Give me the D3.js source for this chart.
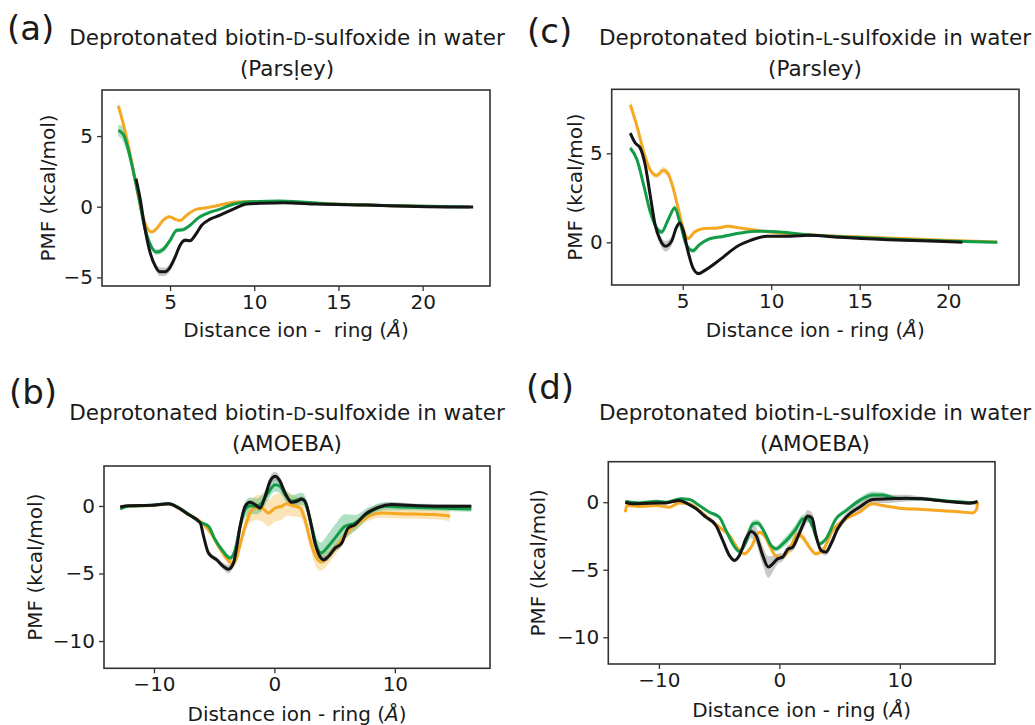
<!DOCTYPE html>
<html>
<head>
<meta charset="UTF-8">
<title>PMF biotin sulfoxide</title>
<style>
  body { margin: 0; background: #fff; }
  svg { font-family: "DejaVu Sans", sans-serif; }
  .frame { fill: none; stroke: #333; stroke-width: 1.6px; }
  .axis path { display: none; }
  .axis line { stroke: #333; stroke-width: 1.3px; }
  .axis text { font-size: 20px; fill: #1a1a1a; font-family: "DejaVu Sans", sans-serif; }
  .title { font-size: 21.5px; fill: #1a1a1a; text-anchor: middle; }
  .lab { font-size: 20px; fill: #1a1a1a; text-anchor: middle; }
  .panel { font-size: 34px; fill: #1a1a1a; }
</style>
</head>
<body>
<svg width="1035" height="725"></svg>
<script src="https://d3js.org/d3.v7.min.js"></script>
<script>
// [distance, PMF, spread]
const aOrange = [[1.93,7.14,0.35],[2.33,5.36,0.25],[2.72,3.2,0.15],[3.02,1.3,0.12],[3.32,-0.36,0.12],[3.61,-1.43,0.12],[3.91,-1.79,0.12],[4.2,-1.55,0.12],[4.6,-0.95,0.1],[4.96,-0.71,0.1],[5.3,-0.88,0.1],[5.59,-0.98,0.1],[5.99,-0.6,0.1],[6.58,-0.17,0.08],[7.18,-0.07,0.08],[7.97,0.12,0.08],[8.76,0.31,0.08],[9.36,0.36,0.06],[11,0.32,0.06],[12.7,0.28,0.05],[15,0.18,0.05],[17,0.1,0.04],[19,0.05,0.04],[21.5,0.0,0.03]];
const aGreen = [[1.93,5.4,0.4],[2.23,5.12,0.55],[2.52,4.05,0.5],[2.82,2.5,0.3],[3.12,0.83,0.2],[3.42,-1.07,0.2],[3.81,-2.62,0.2],[4.2,-3.21,0.2],[4.6,-3.02,0.2],[5.0,-2.38,0.18],[5.4,-1.67,0.15],[5.79,-1.62,0.15],[6.19,-1.31,0.12],[6.68,-0.79,0.1],[7.18,-0.48,0.1],[7.97,-0.17,0.08],[8.76,0.17,0.08],[9.36,0.31,0.06],[11.5,0.4,0.05],[14.7,0.19,0.05],[18.7,0.07,0.04],[22.8,-0.02,0.03]];
const aBlack = [[2.98,1.98,0.15],[3.22,0.6,0.15],[3.51,-1.55,0.18],[3.81,-3.21,0.2],[4.11,-4.17,0.25],[4.4,-4.6,0.3],[4.7,-4.6,0.3],[5.0,-4.29,0.28],[5.3,-3.57,0.22],[5.59,-2.74,0.18],[5.89,-2.38,0.15],[6.19,-2.4,0.12],[6.49,-2.02,0.12],[6.88,-1.31,0.1],[7.38,-0.88,0.1],[7.97,-0.6,0.08],[8.76,-0.17,0.08],[9.55,0.19,0.06],[10.35,0.24,0.05],[11.73,0.29,0.05],[13.7,0.19,0.04],[16.7,0.12,0.04],[19.65,0.02,0.03],[23.0,-0.02,0.03]];

const cOrange = [[2.04,7.73,0.3],[2.42,6.52,0.2],[2.79,5.11,0.15],[3.16,4.08,0.15],[3.53,3.75,0.15],[3.9,4.05,0.2],[4.18,3.85,0.2],[4.46,3.05,0.15],[4.74,1.93,0.1],[5.02,0.8,0.1],[5.3,0.21,0.1],[5.67,0.58,0.1],[6.23,0.77,0.08],[6.97,0.8,0.08],[7.53,0.9,0.08],[8.27,0.8,0.06],[9.2,0.67,0.06],[10.5,0.52,0.05],[12.0,0.43,0.05],[13.85,0.34,0.04],[16.6,0.24,0.04],[19.4,0.13,0.03],[22.77,0.02,0.03]];
const cGreen = [[2.04,5.3,0.12],[2.42,4.64,0.12],[2.79,3.24,0.12],[3.16,1.74,0.12],[3.53,0.8,0.12],[3.81,0.58,0.15],[4.18,1.27,0.15],[4.55,1.93,0.15],[4.83,1.18,0.12],[5.2,-0.13,0.12],[5.58,-0.47,0.12],[5.95,-0.13,0.1],[6.41,0.15,0.08],[7.34,0.34,0.08],[8.27,0.52,0.06],[9.2,0.62,0.06],[10.5,0.58,0.05],[12.0,0.43,0.05],[14.8,0.28,0.04],[17.56,0.15,0.04],[20.35,0.06,0.03],[22.77,0.0,0.03]];
const cBlack = [[2.04,6.14,0.1],[2.32,5.58,0.1],[2.6,5.3,0.1],[2.88,4.36,0.1],[3.16,2.68,0.12],[3.44,0.99,0.15],[3.72,0.15,0.25],[4.03,-0.22,0.3],[4.37,0.06,0.25],[4.65,0.84,0.15],[4.83,1.09,0.12],[5.02,0.71,0.1],[5.3,-0.51,0.1],[5.58,-1.44,0.1],[5.89,-1.76,0.1],[6.23,-1.59,0.08],[6.78,-1.22,0.08],[7.34,-0.79,0.06],[8.09,-0.22,0.06],[8.83,0.11,0.05],[9.76,0.34,0.05],[11.06,0.34,0.05],[12.17,0.39,0.04],[13.85,0.28,0.04],[16.6,0.15,0.04],[19.4,0.06,0.03],[20.8,0.0,0.03]];

const bOrange = [[-12.8,-0.1,0.08],[-12.1,0.0,0.08],[-10.17,0.03,0.08],[-8.78,0.15,0.08],[-7.96,-0.15,0.1],[-7.13,-0.62,0.1],[-6.0,-1.26,0.12],[-5.19,-2.13,0.15],[-4.64,-3.0,0.2],[-4.09,-3.74,0.25],[-3.54,-4.23,0.35],[-3.26,-4.11,0.35],[-2.85,-2.87,0.4],[-2.43,-1.51,0.5],[-2.02,-0.52,0.7],[-1.6,-0.15,0.9],[-1.05,-0.15,1.0],[-0.5,-0.52,1.0],[0.06,-0.15,1.0],[0.61,-0.02,1.0],[1.02,0.17,0.9],[1.57,0.02,0.8],[2.13,-0.15,0.7],[2.54,-1.01,0.6],[2.96,-2.5,0.6],[3.37,-3.61,0.7],[3.78,-4.11,0.7],[4.2,-3.99,0.6],[4.75,-3.49,0.5],[5.3,-2.87,0.45],[6.13,-1.88,0.4],[6.96,-1.26,0.35],[7.79,-0.77,0.35],[8.9,-0.52,0.35],[10.55,-0.57,0.35],[13.3,-0.64,0.35],[14.42,-0.72,0.4],[14.56,-0.8,0.5]];
const bGreen = [[-12.8,-0.22,0.1],[-12.1,0.0,0.08],[-10.17,0.05,0.08],[-8.78,0.17,0.08],[-7.96,-0.12,0.1],[-7.13,-0.6,0.1],[-6.16,-1.21,0.12],[-5.47,-1.51,0.15],[-4.92,-2.5,0.2],[-4.36,-3.24,0.2],[-3.67,-3.86,0.2],[-3.26,-3.24,0.2],[-2.85,-1.51,0.4],[-2.43,-0.27,0.6],[-2.02,0.02,0.6],[-1.46,-0.02,0.6],[-1.05,0.22,0.6],[-0.5,1.01,0.5],[0.06,1.58,0.5],[0.47,1.46,0.5],[0.88,0.84,0.45],[1.44,0.35,0.45],[2.27,0.52,0.45],[2.68,-0.02,0.45],[3.09,-1.51,0.5],[3.51,-3.0,0.6],[3.87,-3.49,0.8],[4.34,-3.12,0.9],[5.03,-2.38,1.0],[5.86,-1.51,0.9],[6.69,-1.26,0.6],[7.79,-0.52,0.4],[9.17,-0.02,0.3],[10.55,-0.07,0.25],[13.3,-0.15,0.2],[16.35,-0.22,0.2]];
const bBlack = [[-12.8,-0.07,0.1],[-12.1,0.02,0.08],[-10.17,0.05,0.08],[-8.78,0.17,0.08],[-7.96,-0.15,0.1],[-7.13,-0.64,0.1],[-6.16,-1.26,0.12],[-5.88,-2.25,0.15],[-5.47,-3.49,0.2],[-4.78,-3.99,0.2],[-4.23,-4.48,0.25],[-3.81,-4.68,0.3],[-3.4,-4.23,0.25],[-3.12,-3.0,0.2],[-2.85,-1.51,0.2],[-2.43,-0.02,0.2],[-2.02,0.27,0.2],[-1.6,0.1,0.2],[-1.19,-0.15,0.2],[-0.77,0.72,0.3],[-0.36,1.83,0.35],[0.06,2.2,0.35],[0.47,1.83,0.3],[0.88,0.97,0.25],[1.44,0.27,0.2],[1.85,0.35,0.2],[2.27,0.52,0.2],[2.54,0.35,0.2],[2.96,-1.01,0.2],[3.37,-2.75,0.2],[3.78,-3.74,0.25],[4.06,-3.99,0.25],[4.48,-3.74,0.25],[5.03,-3.12,0.25],[5.58,-2.75,0.25],[6.13,-1.63,0.2],[6.69,-1.39,0.2],[7.51,-0.64,0.2],[8.62,-0.1,0.2],[9.72,0.1,0.2],[11.93,0.02,0.15],[14.7,-0.02,0.15],[16.35,-0.02,0.12]];

const dOrange = [[-12.78,-0.74,0.08],[-12.67,-0.25,0.08],[-11.6,-0.32,0.08],[-10.2,-0.25,0.08],[-9.13,-0.37,0.08],[-8.3,-0.05,0.08],[-7.47,-0.12,0.08],[-6.64,-0.62,0.1],[-5.81,-1.23,0.1],[-4.98,-1.85,0.1],[-4.15,-2.46,0.1],[-3.46,-3.4,0.12],[-2.9,-3.82,0.12],[-2.35,-3.33,0.15],[-1.66,-2.22,0.15],[-1.16,-2.59,0.15],[-0.69,-3.45,0.15],[-0.28,-3.99,0.15],[0.14,-4.06,0.15],[0.69,-3.69,0.2],[1.11,-2.96,0.25],[1.52,-2.34,0.3],[1.94,-2.59,0.3],[2.49,-3.33,0.2],[3.04,-3.82,0.15],[3.6,-3.57,0.12],[4.43,-2.09,0.1],[5.53,-1.23,0.1],[6.64,-0.74,0.1],[7.75,-0.12,0.1],[8.58,-0.25,0.1],[9.96,-0.44,0.1],[11.9,-0.54,0.1],[13.28,-0.62,0.1],[14.66,-0.69,0.1],[16.04,-0.79,0.1],[16.38,-0.49,0.1],[16.46,0,0.1]];
const dGreen = [[-12.78,0.05,0.08],[-11.6,-0.05,0.08],[-10.2,0.07,0.08],[-9.4,0,0.08],[-8.16,0.25,0.1],[-7.47,0.2,0.1],[-6.64,-0.25,0.1],[-5.81,-0.74,0.12],[-4.98,-1.11,0.12],[-4.43,-2.09,0.12],[-3.87,-3.08,0.12],[-3.32,-3.65,0.15],[-2.77,-2.96,0.2],[-2.21,-1.6,0.25],[-1.8,-1.53,0.25],[-1.24,-2.22,0.2],[-0.69,-3.2,0.2],[-0.28,-3.45,0.2],[0.28,-3.08,0.3],[0.83,-2.59,0.35],[1.38,-1.97,0.35],[1.94,-1.23,0.3],[2.35,-1.18,0.25],[2.77,-1.85,0.2],[3.32,-3.08,0.15],[3.87,-2.71,0.15],[4.7,-1.23,0.15],[5.53,-0.62,0.15],[6.64,0.12,0.2],[7.75,0.54,0.25],[8.58,0.54,0.2],[9.68,0.3,0.15],[11.9,0.25,0.1],[14.66,0.05,0.08],[16.3,-0.05,0.08]];
const dBlack = [[-12.78,0,0.1],[-12.17,-0.12,0.1],[-10.79,-0.07,0.1],[-9.4,-0.05,0.1],[-8.85,0.05,0.1],[-8.3,0.12,0.1],[-7.6,-0.12,0.12],[-6.9,-0.49,0.12],[-6.09,-1.11,0.15],[-5.26,-1.72,0.15],[-4.7,-2.83,0.15],[-4.15,-3.94,0.15],[-3.73,-4.31,0.15],[-3.32,-3.94,0.2],[-2.77,-2.71,0.4],[-2.35,-2.17,0.5],[-1.94,-2.46,0.6],[-1.38,-3.94,0.7],[-0.91,-4.8,0.8],[-0.55,-4.56,0.6],[-0.14,-4.19,0.4],[0.28,-4.06,0.3],[0.69,-3.5,0.3],[1.11,-3.33,0.3],[1.52,-2.59,0.35],[1.94,-1.72,0.4],[2.35,-1.03,0.45],[2.71,-1.18,0.4],[3.04,-2.46,0.3],[3.46,-3.57,0.25],[3.87,-3.69,0.25],[4.29,-3.08,0.3],[4.84,-1.97,0.3],[5.53,-1.11,0.3],[6.64,-0.37,0.3],[7.75,0.2,0.3],[9.13,0.25,0.3],[10.51,0.3,0.25],[11.9,0.25,0.15],[13.28,0.12,0.1],[14.66,0,0.1],[15.77,-0.07,0.1],[16.46,0.05,0.1]];

const colors = { orange: "#f7a823", green: "#129c48", black: "#151515" };
const bandColors = { orange: "#f9c463", green: "#4dbb7a", black: "#888888" };

const panels = [
  { id: "(a)", lx: 7, ly: 40, iso: "D", ff: "Parsḷey", tx: 287, ty: 45,
    box: [102, 490, 90, 286], xd: [0.96, 24.0], yd: [-5.61, 8.26],
    xt: [5, 10, 15, 20], yt: [-5, 0, 5], xlab: "Distance ion -\u00a0 ring ", xly: 337, yx: 48,
    series: [["orange", aOrange], ["green", aGreen], ["black", aBlack]] },
  { id: "(c)", lx: 527, ly: 43, iso: "L", ff: "Parsley", tx: 815, ty: 45,
    box: [611.7, 1019, 89.3, 285], xd: [0.99, 24.0], yd: [-2.4, 8.6],
    xt: [5, 10, 15, 20], yt: [0, 5], xlab: "Distance ion - ring ", xly: 337, yx: 575,
    series: [["orange", cOrange], ["green", cGreen], ["black", cBlack]] },
  { id: "(b)", lx: 9, ly: 404, iso: "D", ff: "AMOEBA", tx: 287, ty: 420,
    box: [104, 490, 466, 668.3], xd: [-14.15, 17.9], yd: [-12.02, 2.96],
    xt: [-10, 0, 10], yt: [-10, -5, 0], xlab: "Distance ion - ring ", xly: 721, yx: 35,
    series: [["orange", bOrange], ["green", bGreen], ["black", bBlack]] },
  { id: "(d)", lx: 526, ly: 399, iso: "L", ff: "AMOEBA", tx: 815, ty: 420,
    box: [608.3, 995, 461.7, 664], xd: [-14.2, 17.9], yd: [-11.98, 3.0],
    xt: [-10, 0, 10], yt: [-10, -5, 0], xlab: "Distance ion - ring ", xly: 717, yx: 538,
    series: [["orange", dOrange], ["green", dGreen], ["black", dBlack]] }
];

const svg = d3.select("svg");

panels.forEach((p, i) => {
  const [x0, x1, y0, y1] = p.box;
  const x = d3.scaleLinear().domain(p.xd).range([x0, x1]);
  const y = d3.scaleLinear().domain(p.yd).range([y1, y0]);
  const g = svg.append("g");

  g.append("clipPath").attr("id", "clip" + i)
    .append("rect").attr("x", x0).attr("y", y0).attr("width", x1 - x0).attr("height", y1 - y0);

  const plot = g.append("g").attr("clip-path", `url(#clip${i})`);
  const curve = d3.curveMonotoneX;
  const area = d3.area().curve(curve)
    .x(d => x(d[0])).y0(d => y(d[1] - d[2])).y1(d => y(d[1] + d[2]));
  const line = d3.line().curve(curve).x(d => x(d[0])).y(d => y(d[1]));

  p.series.forEach(([c, data]) => {
    plot.append("path").attr("d", area(data))
      .attr("fill", bandColors[c]).attr("fill-opacity", 0.45);
  });
  p.series.forEach(([c, data]) => {
    plot.append("path").attr("d", line(data))
      .attr("fill", "none").attr("stroke", colors[c])
      .attr("stroke-width", 3).attr("stroke-linejoin", "round");
  });

  g.append("g").attr("class", "axis").attr("transform", `translate(0,${y1})`)
    .call(d3.axisBottom(x).tickValues(p.xt).tickSize(5).tickPadding(4));
  g.append("g").attr("class", "axis").attr("transform", `translate(${x0},0)`)
    .call(d3.axisLeft(y).tickValues(p.yt).tickSize(5).tickPadding(4));

  g.append("rect").attr("class", "frame")
    .attr("x", x0).attr("y", y0).attr("width", x1 - x0).attr("height", y1 - y0);

  // titles
  const t = g.append("text").attr("class", "title").attr("x", p.tx).attr("y", p.ty);
  t.append("tspan").text("Deprotonated biotin-");
  t.append("tspan").attr("font-size", "0.78em").text(p.iso);
  t.append("tspan").text("-sulfoxide in water");
  g.append("text").attr("class", "title").attr("x", p.tx).attr("y", p.ty + 31).text("(" + p.ff + ")");

  g.append("text").attr("class", "panel").attr("x", p.lx).attr("y", p.ly).text(p.id);

  const xl = g.append("text").attr("class", "lab").attr("x", (x0 + x1) / 2).attr("y", p.xly);
  xl.append("tspan").text(p.xlab + "(");
  xl.append("tspan").attr("font-style", "italic").text("Å");
  xl.append("tspan").text(")");
  g.append("text").attr("class", "lab")
    .attr("transform", `translate(${p.yx},${(y0 + y1) / 2}) rotate(-90)`)
    .attr("dy", "0.35em").text("PMF (kcal/mol)");
});
</script>
</body>
</html>
